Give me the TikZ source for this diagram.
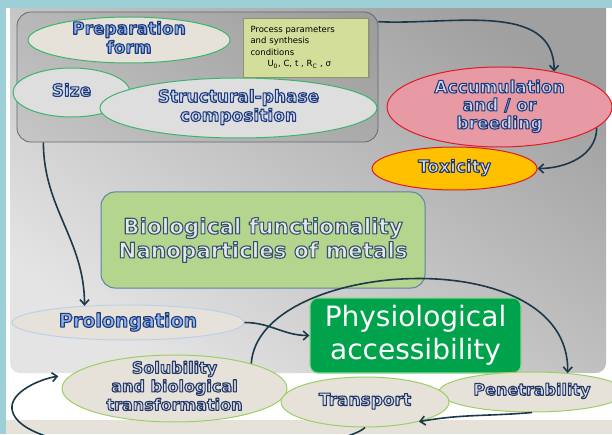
\documentclass[tikz,border=0pt]{standalone}
\usepackage{fontspec}
\setmainfont{DejaVu Sans}
\usetikzlibrary{shapes.geometric,arrows.meta,shadows}

\definecolor{tealbg}{HTML}{9DCFD6}
\definecolor{panellight}{HTML}{E4E4E4}
\definecolor{paneldark}{HTML}{A0A0A0}
\definecolor{bandbeige}{HTML}{E6E2D9}
\definecolor{beige}{HTML}{E7E2D9}
\definecolor{pale}{HTML}{DEDEDE}
\definecolor{topgreen}{HTML}{3CB46E}
\definecolor{lowgreen}{HTML}{9BCF63}
\definecolor{prolongedge}{HTML}{B9D1EA}
\definecolor{grpedge}{HTML}{5E6A74}
\definecolor{procfill}{HTML}{D2DE9A}
\definecolor{procedge}{HTML}{8E9468}
\definecolor{accumfill}{HTML}{E89AA4}
\definecolor{redge}{HTML}{E01A22}
\definecolor{toxfill}{HTML}{FFC000}
\definecolor{biofill}{HTML}{B4D58E}
\definecolor{bioedge}{HTML}{5B84A6}
\definecolor{physfill}{HTML}{00A24B}
\definecolor{physedge}{HTML}{8ED68E}
\definecolor{arrowc}{HTML}{1C394A}
\definecolor{blueink}{HTML}{8FB3EA}
\definecolor{grayink}{HTML}{CDD6EC}
\definecolor{lowink}{HTML}{D9DCE6}
\definecolor{bioink}{HTML}{E6E6E6}

% outlined text: fill in the current colour, stroke in the given rgb
\newcommand{\outl}[2]{\special{pdf:literal direct 2 Tr 1.1 w 1 j #1 RG}#2\special{pdf:literal direct 0 Tr}}
\newcommand{\navyol}[1]{\outl{0.122 0.227 0.478}{#1}}
\newcommand{\darkol}[1]{\outl{0.141 0.220 0.400}{#1}}
\newcommand{\biool}[1]{\outl{0.204 0.314 0.431}{#1}}
% centred lines that do not enlarge the ellipse
\newcommand{\ctxt}[1]{\smash{\raisebox{-.25em}{\begin{tabular}{@{}c@{}}#1\end{tabular}}}}

\begin{document}
\begin{tikzpicture}[x=1pt,y=1pt,
    ell/.style={ellipse, inner sep=0pt, line width=1pt,
      font=\bfseries\fontsize{17}{19}\selectfont},
    grpbox/.style={rectangle, rounded corners=14pt, draw=grpedge, line width=0.8pt,
      fill=black, fill opacity=0.07},
    procbox/.style={rectangle, fill=procfill, draw=procedge, line width=0.6pt,
      minimum width=125, minimum height=59, text width=110pt, align=left, inner sep=0pt,
      font=\fontsize{8.5}{11.5}\selectfont,
      drop shadow={shadow xshift=1.5pt, shadow yshift=-1.5pt, opacity=.35}},
    flow/.style={draw=arrowc, line width=1.6pt, -{Straight Barb[length=5pt,width=9pt]}}]
  \useasboundingbox (0,0) rectangle (612,434);
  \clip (0,0) rectangle (612,434);

  % background
  \fill[tealbg] (0,0) rectangle (612,434);
  \fill[white] (6,0) rectangle (612,426);
  \shade[top color=paneldark, bottom color=panellight, shading angle=-35, rounded corners=10pt]
    (10,61) rectangle (606,440);
  \fill[tealbg] (0,426) rectangle (612,434);
  \fill[bandbeige] (6,0) rectangle (612,14);

  % top group
  \node[grpbox, minimum width=361, minimum height=130] (grp) at (197.5,357) {};
  \node[ell, fill=beige, draw=topgreen, minimum width=202, minimum height=46, text=blueink]
    (prep) at (129,394) {\ctxt{\navyol{Preparation}\\\navyol{form}}};
  \node[ell, fill=pale, draw=topgreen, minimum width=117, minimum height=49, text=grayink]
    (size) at (71.5,341.5) {\ctxt{\navyol{Size}}};
  \node[ell, fill=pale, draw=topgreen, minimum width=277, minimum height=60, text=grayink]
    (struct) at (238.5,326) {\ctxt{\navyol{Structural-phase}\\\navyol{composition}}};
  \node[procbox] (proc) at (305.5,386.5)
    {Process parameters\\and synthesis\\conditions\\\hspace*{17pt}U\textsubscript{0}, C, t , R\textsubscript{C} , σ};

  % right column
  \node[ell, fill=accumfill, draw=redge, minimum width=225, minimum height=80, text=grayink]
    (accum) at (499.5,327) {\fontsize{17}{17}\selectfont
      \ctxt{\navyol{Accumulation}\\\navyol{and / or}\\\navyol{breeding}}};
  \node[ell, fill=toxfill, draw=redge, minimum width=165, minimum height=43, text=lowink]
    (tox) at (454.5,265.5) {\ctxt{\darkol{Toxicity}}};

  % centre
  \node[rectangle, rounded corners=14pt, fill=biofill, draw=bioedge, line width=1pt,
    minimum width=324, minimum height=96, align=center, text=bioink,
    font=\bfseries\fontsize{21.5}{24}\selectfont]
    (bio) at (263,194) {\biool{Biological functionality}\\\biool{Nanoparticles of metals}};
  \node[ell, fill=beige, draw=prolongedge, minimum width=232, minimum height=35, text=blueink,
    font=\bfseries\fontsize{19}{20}\selectfont]
    (prolong) at (128,111.5) {\ctxt{\navyol{Prolongation}}};
  \node[rectangle, rounded corners=8pt, fill=physfill, draw=physedge, line width=1.2pt,
    minimum width=211, minimum height=75, align=center, text=white,
    font=\fontsize{28}{33}\selectfont]
    (physio) at (415.5,98.5) {Physiological\\accessibility};

  % bottom row
  \node[ell, fill=beige, draw=lowgreen, minimum width=225, minimum height=67, text=lowink,
    font=\bfseries\fontsize{16}{18.5}\selectfont]
    (solub) at (174.5,45.5) {\ctxt{\darkol{Solubility}\\\darkol{and biological}\\\darkol{transformation}}};
  \node[ell, fill=beige, draw=lowgreen, minimum width=186, minimum height=40, text=lowink,
    font=\bfseries\fontsize{16}{17}\selectfont]
    (penetr) at (532,42) {\ctxt{\darkol{Penetrability}}};
  \node[ell, fill=beige, draw=lowgreen, minimum width=168, minimum height=50, text=lowink,
    font=\bfseries\fontsize{17}{18}\selectfont]
    (transport) at (365,32) {\ctxt{\darkol{Transport}}};

  % connectors
  \draw[flow] (grp.17) to[out=-3,in=90] (accum.33);
  \draw[flow] (accum.-12) to[out=-90,in=0] (tox.east);
  \draw[flow] (grp.203) to[out=-90,in=90] (prolong.159);
  \draw[flow] (prolong.east) to[out=0,in=180] (physio.west);
  \draw[flow] (solub.18) .. controls (258,175) and (570,195) .. (penetr.28);
  \draw[flow] (penetr.south) to[out=185,in=10] (transport.-20);
  \draw[flow, shorten >=14pt] (transport.south) .. controls (330,-25) and (20,-35) .. (12,25)
    .. controls (10,42) and (40,55) .. (solub.172);
\end{tikzpicture}
\end{document}
